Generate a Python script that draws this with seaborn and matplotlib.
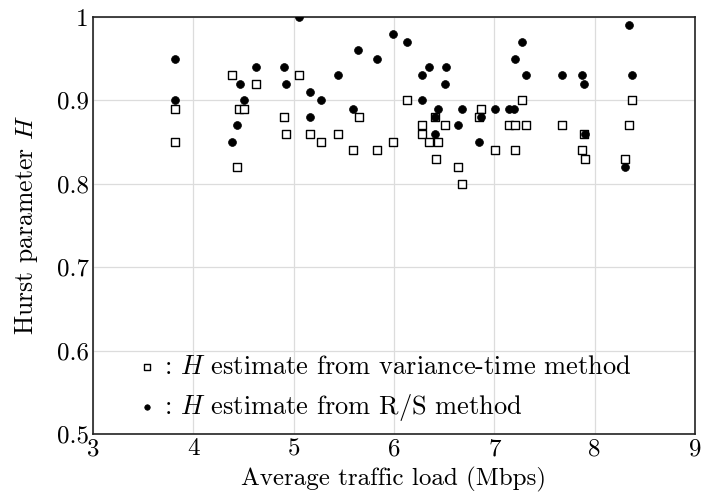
import matplotlib
matplotlib.use("Agg")
import matplotlib.pyplot as plt
import seaborn as sns
import pandas as pd

# Variance-time method estimates: (average load in Mbps, H)
vt_load = [3.82, 3.82, 4.385, 4.62, 4.455, 4.505, 4.44, 4.90, 4.92, 5.05,
           5.16, 5.27, 5.44, 5.65, 5.59, 5.83, 5.99, 6.13, 6.41, 6.28,
           6.28, 6.51, 6.35, 6.44, 6.42, 6.64, 6.68, 6.87, 6.85, 7.01,
           7.28, 7.15, 7.21, 7.32, 7.21, 7.67, 7.89, 7.87, 7.90, 8.37,
           8.34, 8.30]
vt_h = [0.89, 0.85, 0.93, 0.92, 0.89, 0.89, 0.82, 0.88, 0.86, 0.93,
        0.86, 0.85, 0.86, 0.88, 0.84, 0.84, 0.85, 0.90, 0.88, 0.87,
        0.86, 0.87, 0.85, 0.85, 0.83, 0.82, 0.80, 0.89, 0.88, 0.84,
        0.90, 0.87, 0.87, 0.87, 0.84, 0.87, 0.86, 0.84, 0.83, 0.90,
        0.87, 0.83]

# R/S method estimates: (average load in Mbps, H)
rs_load = [3.82, 3.82, 4.62, 4.47, 4.505, 4.44, 4.385, 4.90, 4.92, 5.05,
           5.16, 5.27, 5.16, 5.44, 5.64, 5.59, 5.83, 5.99, 6.13, 6.28,
           6.35, 6.52, 6.51, 6.28, 6.44, 6.41, 6.41, 6.64, 6.68, 6.87,
           6.85, 7.01, 7.28, 7.21, 7.32, 7.15, 7.20, 7.67, 7.87, 7.89,
           7.90, 8.34, 8.37, 8.30]
rs_h = [0.95, 0.90, 0.94, 0.92, 0.90, 0.87, 0.85, 0.94, 0.92, 1.00,
        0.91, 0.90, 0.88, 0.93, 0.96, 0.89, 0.95, 0.98, 0.97, 0.93,
        0.94, 0.94, 0.92, 0.90, 0.89, 0.88, 0.86, 0.87, 0.89, 0.88,
        0.85, 0.89, 0.97, 0.95, 0.93, 0.89, 0.89, 0.93, 0.93, 0.92,
        0.86, 0.99, 0.93, 0.82]

x_ticks = [3, 4, 5, 6, 7, 8, 9]
y_ticks = [0.5, 0.6, 0.7, 0.8, 0.9, 1.0]
y_tick_labels = ["0.5", "0.6", "0.7", "0.8", "0.9", "1"]

sns.set_theme(style="whitegrid")
plt.rcParams["font.family"] = ["cmr10", "DejaVu Serif"]
plt.rcParams["mathtext.fontset"] = "cm"
plt.rcParams["axes.formatter.use_mathtext"] = True

vt = pd.DataFrame({"load": vt_load, "H": vt_h})
rs = pd.DataFrame({"load": rs_load, "H": rs_h})

fig = plt.figure(figsize=(7.03, 4.97), dpi=100)
ax = fig.add_axes([0.1323, 0.1268, 0.8563, 0.839])

sns.scatterplot(data=vt, x="load", y="H", ax=ax, marker="s", s=40,
                facecolor="white", edgecolor="black", linewidth=1.0,
                label=r": $H$ estimate from variance-time method", zorder=3)
sns.scatterplot(data=rs, x="load", y="H", ax=ax, marker="o", s=32,
                color="black", edgecolor="black", linewidth=0.5,
                label=r": $H$ estimate from R/S method", zorder=4)

ax.set_xlim(3, 9)
ax.set_ylim(0.5, 1.0)
ax.set_xticks(x_ticks)
ax.set_xticklabels([str(t) for t in x_ticks])
ax.set_yticks(y_ticks)
ax.set_yticklabels(y_tick_labels)
ax.tick_params(axis="both", labelsize=18, length=0, pad=3, colors="black")
ax.set_xlabel("Average traffic load (Mbps)", fontsize=18, color="black", labelpad=5)
ax.set_ylabel(r"Hurst parameter $H$", fontsize=18.5, color="black", labelpad=12)

ax.grid(True, color="#dcdcdc", linewidth=0.9)
for sp in ax.spines.values():
    sp.set_visible(True)
    sp.set_color("#222222")
    sp.set_linewidth(1.2)

leg = ax.legend(loc="lower left", bbox_to_anchor=(0.028, -0.03), frameon=False,
                fontsize=19, handletextpad=0.15, handlelength=1.0,
                labelspacing=0.5, markerscale=0.7)
for t in leg.get_texts():
    t.set_color("black")

fig.savefig("out.png", dpi=100)
